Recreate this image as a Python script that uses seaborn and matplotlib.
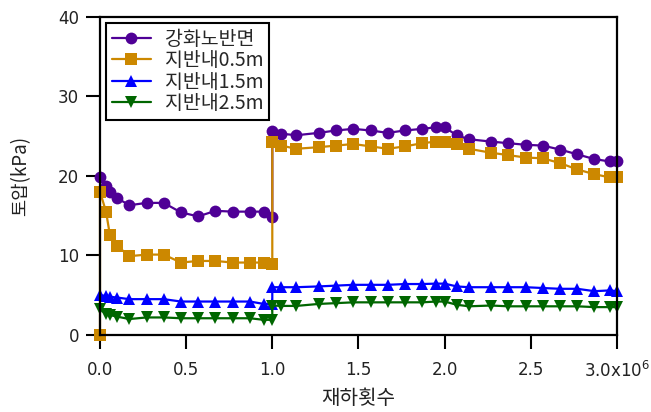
import matplotlib
matplotlib.use("Agg")
import matplotlib.pyplot as plt
import seaborn as sns
import pandas as pd

# Load cycles (x1e6) and earth pressure (kPa) for each gauge
cycles_stage1 = [0.0, 0.035, 0.058, 0.10, 0.17, 0.27, 0.37, 0.47, 0.57, 0.67, 0.77, 0.87, 0.95, 1.0]
cycles_stage2 = [1.0, 1.05, 1.14, 1.27, 1.37, 1.47, 1.57, 1.67, 1.77, 1.87, 1.95, 2.0,
                 2.07, 2.14, 2.27, 2.37, 2.47, 2.57, 2.67, 2.77, 2.87, 2.96, 3.0]

p_surface = [19.9, 18.7, 18.0, 17.2, 16.3, 16.6, 16.6, 15.4, 14.9, 15.6, 15.5, 15.5, 15.5, 14.8,
             25.6, 25.3, 25.1, 25.4, 25.7, 25.9, 25.7, 25.4, 25.7, 25.9, 26.1, 26.1,
             25.1, 24.6, 24.3, 24.1, 23.9, 23.8, 23.3, 22.7, 22.1, 21.8, 21.8]
p_05m = [0.0,
         18.0, 15.5, 12.5, 11.2, 9.9, 10.1, 10.1, 9.1, 9.3, 9.3, 9.1, 9.1, 9.1, 8.9,
         24.2, 23.8, 23.4, 23.6, 23.8, 24.0, 23.7, 23.4, 23.7, 24.1, 24.3, 24.3,
         24.0, 23.4, 22.9, 22.6, 22.3, 22.2, 21.6, 20.8, 20.2, 19.8, 19.9]
p_15m = [5.0, 4.9, 4.8, 4.7, 4.5, 4.5, 4.5, 4.2, 4.2, 4.2, 4.2, 4.2, 3.9, 3.9,
         6.0, 6.0, 6.0, 6.1, 6.2, 6.3, 6.3, 6.3, 6.4, 6.4, 6.45, 6.45,
         6.1, 6.0, 6.0, 6.0, 6.0, 5.9, 5.8, 5.8, 5.5, 5.6, 5.5]
p_25m = [3.3, 2.6, 2.5, 2.3, 2.0, 2.2, 2.2, 2.1, 2.1, 2.1, 2.1, 2.1, 1.9, 1.9,
         3.7, 3.65, 3.65, 3.9, 4.0, 4.1, 4.1, 4.1, 4.1, 4.1, 4.2, 4.2,
         3.8, 3.6, 3.7, 3.6, 3.6, 3.6, 3.6, 3.6, 3.5, 3.5, 3.5]

series_names = ["강화노반면", "지반내0.5m", "지반내1.5m", "지반내2.5m"]
series_colors = ["#4F0096", "#CC8800", "#0000FF", "#006600"]
series_markers = ["o", "s", "^", "v"]
x_ticks = [0.0, 0.5e6, 1.0e6, 1.5e6, 2.0e6, 2.5e6, 3.0e6]
x_ticklabels = ["0.0", "0.5", "1.0", "1.5", "2.0", "2.5", "3.0x10$^{6}$"]
y_ticks = [0, 10, 20, 30, 40]

base_x = cycles_stage1 + cycles_stage2
series_x = [base_x, [0.0] + base_x, base_x, base_x]
series_y = [p_surface, p_05m, p_15m, p_25m]

rows = []
for name, xs, ys in zip(series_names, series_x, series_y):
    for xv, yv in zip(xs, ys):
        rows.append({"재하횟수": xv * 1e6, "토압": yv, "위치": name})
df = pd.DataFrame(rows)

sns.set_theme(style="white")
plt.rcParams["font.family"] = ["DejaVu Sans", "Noto Sans CJK KR"]
plt.rcParams["mathtext.fontset"] = "dejavusans"

fig = plt.figure(figsize=(6.51, 4.12), dpi=100)
ax = fig.add_axes([0.1536, 0.187, 0.794, 0.7725])

sns.lineplot(
    data=df, x="재하횟수", y="토압", hue="위치", style="위치",
    hue_order=series_names, style_order=series_names,
    palette=dict(zip(series_names, series_colors)),
    markers=dict(zip(series_names, series_markers)),
    dashes=False, sort=False, estimator=None, units="위치",
    linewidth=1.6, markersize=8.5, markeredgewidth=0,
    legend=True, ax=ax,
)

for ln in ax.lines:
    ln.set_clip_on(False)

ax.set_xlim(0, 3.0e6)
ax.set_ylim(0, 40)
ax.set_xticks(x_ticks)
ax.set_xticklabels(x_ticklabels)
ax.set_yticks(y_ticks)
ax.tick_params(axis="both", direction="out", length=10, width=1.5,
               labelsize=12, color="black", labelcolor="#222222",
               bottom=True, left=True)
ax.tick_params(axis="x", pad=9)
ax.tick_params(axis="y", pad=5)
for sp in ax.spines.values():
    sp.set_linewidth(1.6)
    sp.set_color("black")

ax.set_xlabel("재하횟수", fontsize=14.5, labelpad=5,
              family=["Noto Sans CJK KR", "DejaVu Sans"], color="#222222")
ax.set_ylabel("토압(kPa)", fontsize=13.5, labelpad=19,
              family=["Noto Sans CJK KR", "DejaVu Sans"], color="#222222")

handles, labels = ax.get_legend_handles_labels()
leg = ax.legend(handles, labels, loc="upper left", bbox_to_anchor=(0.012, 0.98),
                frameon=True, fancybox=False, edgecolor="black", framealpha=1,
                handlelength=2.0, handletextpad=0.7, labelspacing=0.02,
                borderpad=0.3, borderaxespad=0.0,
                prop={"family": ["Noto Sans CJK KR", "DejaVu Sans"], "size": 14})
leg.get_frame().set_linewidth(1.5)
for h in leg.legend_handles:
    h.set_markersize(8.5)

fig.savefig("out.png", dpi=100)
